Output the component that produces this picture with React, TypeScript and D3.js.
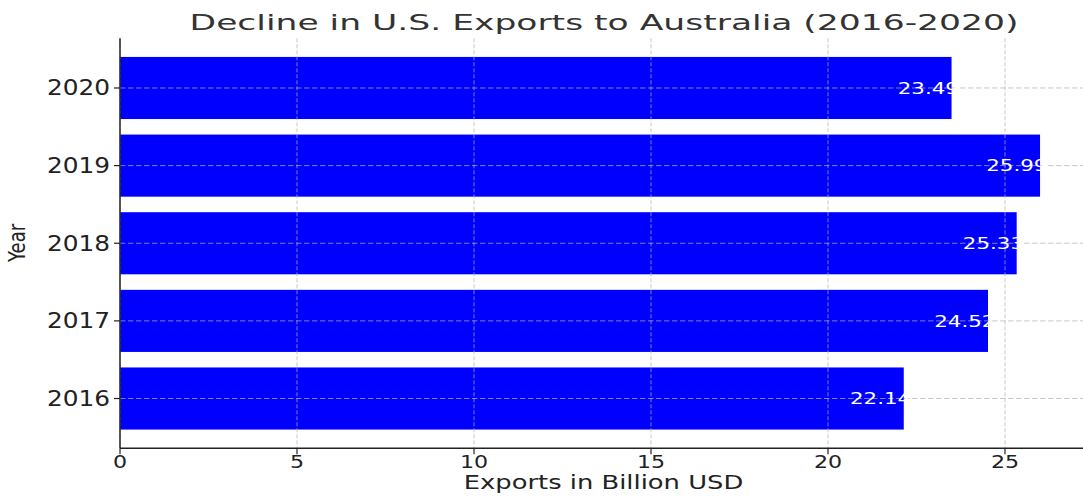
import React from "react";
import * as d3 from "d3";

const years = ["2016", "2017", "2018", "2019", "2020"];
const exportsBn = [22.14, 24.52, 25.33, 25.99, 23.49];
const xTicks = [0, 5, 10, 15, 20, 25];
const titleText = "Decline in U.S. Exports to Australia (2016-2020)";
const xLabelText = "Exports in Billion USD";
const yLabelText = "Year";

const W = 1083;
const H = 498;
const FONT = "DejaVu Sans, sans-serif";

export default function App() {
  const xMax = d3.max(exportsBn)! * 1.05;
  const x = d3.scaleLinear().domain([0, xMax]).range([120, 120 + xMax * 35.4]);
  const n = years.length;
  const y = d3.scaleLinear().domain([-0.64, n - 1 + 0.64]).range([448.2, 38.3]);
  const barH = Math.abs(y(0.4) - y(-0.4));
  const left = 120;
  const bottom = 448.2;
  const top = 38.3;

  return (
    <svg
      width={W}
      height={H}
      style={{ position: "absolute", left: 0, top: 0, background: "#fff" }}
    >
      {/* bars */}
      {exportsBn.map((v, i) => (
        <rect
          key={"b" + i}
          x={x(0)}
          y={y(i) - barH / 2}
          width={x(v) - x(0)}
          height={barH}
          fill="#0000ff"
        />
      ))}
      {/* grid */}
      {xTicks.map((t) => (
        <line
          key={"gx" + t}
          x1={x(t)}
          x2={x(t)}
          y1={top}
          y2={bottom}
          stroke="#b0b0b0"
          strokeOpacity={0.7}
          strokeWidth={1}
          strokeDasharray="4,2"
        />
      ))}
      {years.map((yr, i) => (
        <line
          key={"gy" + yr}
          x1={left}
          x2={W}
          y1={y(i)}
          y2={y(i)}
          stroke="#b0b0b0"
          strokeOpacity={0.7}
          strokeWidth={1}
          strokeDasharray="5.5,2.5"
        />
      ))}
      {/* value labels */}
      {exportsBn.map((v, i) => (
        <text
          key={"l" + i}
          transform={`translate(${x(v - 1.52)},${y(i) + 5.7}) scale(1.38,1)`}
          fontFamily={FONT}
          fontSize={15.5}
          fill="#ffffff"
        >
          {v.toFixed(2)}
        </text>
      ))}
      {/* spines */}
      <line x1={left} x2={left} y1={top} y2={bottom} stroke="#222" strokeWidth={1.5} />
      <line x1={left} x2={W} y1={bottom} y2={bottom} stroke="#222" strokeWidth={1.5} />
      {/* x ticks */}
      {xTicks.map((t) => (
        <g key={"xt" + t}>
          <line x1={x(t)} x2={x(t)} y1={bottom} y2={bottom + 6} stroke="#222" strokeWidth={1.2} />
          <text
            transform={`translate(${x(t)},467.5) scale(1.23,1)`}
            textAnchor="middle"
            fontFamily={FONT}
            fontSize={18}
            fill="#222"
          >
            {t}
          </text>
        </g>
      ))}
      {/* y ticks */}
      {years.map((yr, i) => (
        <g key={"yt" + yr}>
          <line x1={left - 6} x2={left} y1={y(i)} y2={y(i)} stroke="#222" strokeWidth={1.2} />
          <text
            transform={`translate(110,${y(i) + 7.5}) scale(1.21,1)`}
            textAnchor="end"
            fontFamily={FONT}
            fontSize={20.5}
            fill="#222"
          >
            {yr}
          </text>
        </g>
      ))}
      {/* axis labels */}
      <text
        transform={`translate(603.5,488.5) scale(1.33,1)`}
        textAnchor="middle"
        fontFamily={FONT}
        fontSize={19.4}
        fill="#222"
      >
        {xLabelText}
      </text>
      <text
        transform={`translate(25,243) rotate(-90) scale(1,1.25)`}
        textAnchor="middle"
        fontFamily={FONT}
        fontSize={18}
        fill="#222"
      >
        {yLabelText}
      </text>
      {/* title */}
      <text
        transform={`translate(604,29.5) scale(1.57,1)`}
        textAnchor="middle"
        fontFamily={FONT}
        fontSize={22}
        fill="#333"
      >
        {titleText}
      </text>
    </svg>
  );
}
